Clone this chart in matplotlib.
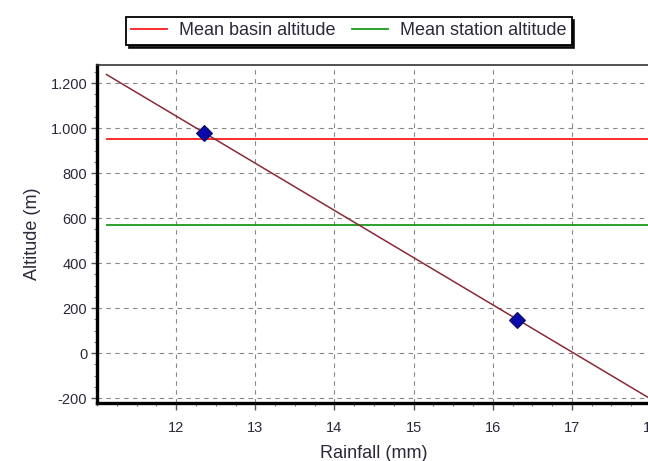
import matplotlib
matplotlib.use('Agg')
import matplotlib.pyplot as plt
from matplotlib.ticker import MultipleLocator, FixedLocator, FuncFormatter

plt.rcParams['font.family'] = ['Liberation Sans', 'DejaVu Sans']

# Observed stations (rainfall vs altitude)
station_rain = [12.35, 16.31]
station_alt = [978, 147]

# Fitted altitude-rainfall line (end points)
fit_rain = [11.12, 18.0]
fit_alt = [1238, -205]

# Reference altitudes
mean_basin_alt = 950
mean_station_alt = 568
ref_rain = [11.12, 18.0]

x_ticks = [12, 13, 14, 15, 16, 17, 18]

text_col = '#2a2a3a'

fig = plt.figure(figsize=(6.48, 4.61), dpi=100)
ax = fig.add_axes([0.1497, 0.1258, 0.855, 0.733])

ax.plot(ref_rain, [mean_basin_alt] * 2, color='#ff1a1a', lw=1.3, label='Mean basin altitude', zorder=3)
ax.plot(ref_rain, [mean_station_alt] * 2, color='#1a9a1a', lw=1.3, label='Mean station altitude', zorder=3)
ax.plot(fit_rain, fit_alt, color='#8a2a38', lw=1.1, zorder=4)
ax.plot(station_rain, station_alt, linestyle='none', marker='D', markersize=8,
        markerfacecolor='#0a0aa8', markeredgecolor='#101060', markeredgewidth=0.8, zorder=5)

ax.set_xlim(11, 18)
ax.set_ylim(-222, 1280)
ax.xaxis.set_major_locator(FixedLocator(x_ticks))
ax.xaxis.set_minor_locator(MultipleLocator(0.25))
ax.yaxis.set_major_locator(MultipleLocator(200))
ax.yaxis.set_minor_locator(MultipleLocator(50))
ax.yaxis.set_major_formatter(FuncFormatter(lambda v, p: f'{int(v):,}'.replace(',', '.')))

ax.grid(True, which='major', color='#888888', linestyle=(0, (4, 4)), lw=0.8)
ax.tick_params(which='major', direction='out', width=1, colors='#555555',
               labelsize=10.5, labelcolor=text_col)
ax.tick_params(axis='x', which='major', length=5, pad=8)
ax.tick_params(axis='y', which='major', length=4, pad=3)
ax.tick_params(which='minor', direction='out', length=2.5, width=0.8, colors='#777777')

for s in ['left', 'bottom']:
    ax.spines[s].set_linewidth(2.4)
    ax.spines[s].set_color('black')
ax.spines['top'].set_linewidth(1.2)
ax.spines['top'].set_color('#333333')
ax.spines['right'].set_visible(False)

ax.set_xlabel('Rainfall (mm)', fontsize=13, color=text_col, labelpad=7)
ax.set_ylabel('Altitude (m)', fontsize=13, color=text_col, labelpad=7)

leg = fig.legend(loc='upper center', bbox_to_anchor=(0.538, 0.963), ncol=2, fontsize=13,
                 frameon=True, fancybox=False, shadow={'color': 'black', 'alpha': 0.85},
                 handlelength=2.0, handletextpad=0.65, columnspacing=0.9,
                 borderpad=0.3, borderaxespad=0)
leg.get_frame().set_edgecolor('black')
leg.get_frame().set_linewidth(1.3)
for t in leg.get_texts():
    t.set_color(text_col)

fig.savefig('out.png', dpi=100)
